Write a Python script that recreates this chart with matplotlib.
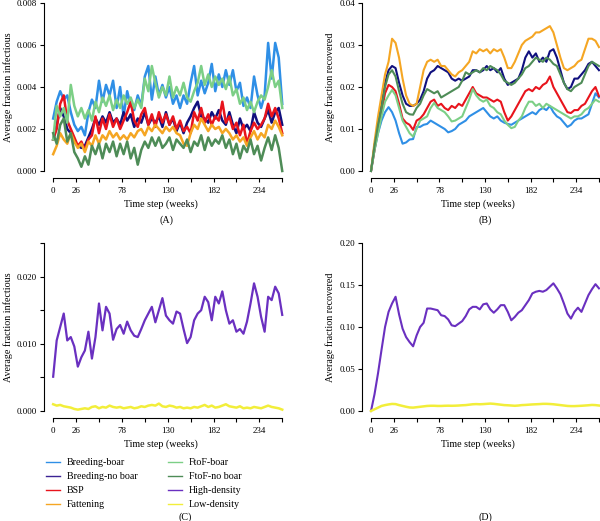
import matplotlib
matplotlib.use('Agg')
import matplotlib.pyplot as plt
from matplotlib.lines import Line2D

plt.rcParams['font.family'] = ['Liberation Serif', 'DejaVu Serif']
plt.rcParams['font.size'] = 6.5

# time grid (weeks), one value every 4 weeks
weeks = list(range(0, 261, 4))

# panel A - average fraction infectious
breeding_boar_inf = [
    0.0025, 0.0033, 0.0038, 0.0034, 0.0036, 0.0028, 0.0022, 0.0019, 0.0021, 0.0017, 0.0028,
    0.0034, 0.0030, 0.0043, 0.0033, 0.0041, 0.0036, 0.0043, 0.0030, 0.0040, 0.0026, 0.0038,
    0.0031, 0.0029, 0.0036, 0.0031, 0.0045, 0.0050, 0.0034, 0.0045, 0.0036, 0.0041, 0.0035,
    0.0040, 0.0032, 0.0036, 0.0030, 0.0036, 0.0032, 0.0042, 0.0050, 0.0036, 0.0043, 0.0037,
    0.0042, 0.0051, 0.0038, 0.0046, 0.0040, 0.0048, 0.0041, 0.0048, 0.0038, 0.0042, 0.0031,
    0.0035, 0.0030, 0.0045, 0.0036, 0.0030, 0.0036, 0.0061, 0.0044, 0.0061, 0.0054, 0.0032]
breeding_noboar_inf = [
    0.0015, 0.0022, 0.0030, 0.0026, 0.0020, 0.0018, 0.0014, 0.0012, 0.0011, 0.0012, 0.0016,
    0.0020, 0.0025, 0.0022, 0.0026, 0.0023, 0.0028, 0.0023, 0.0025, 0.0022, 0.0028, 0.0024,
    0.0027, 0.0021, 0.0025, 0.0023, 0.0028, 0.0022, 0.0025, 0.0023, 0.0026, 0.0021, 0.0028,
    0.0022, 0.0025, 0.0019, 0.0023, 0.0018, 0.0023, 0.0026, 0.0030, 0.0033, 0.0026, 0.0025,
    0.0023, 0.0028, 0.0025, 0.0029, 0.0024, 0.0022, 0.0028, 0.0022, 0.0018, 0.0025, 0.0020,
    0.0022, 0.0019, 0.0028, 0.0023, 0.0021, 0.0025, 0.0029, 0.0023, 0.0028, 0.0030, 0.0022]
bsp_inf = [
    0.0015, 0.0020, 0.0032, 0.0036, 0.0024, 0.0020, 0.0016, 0.0012, 0.0014, 0.0010, 0.0015,
    0.0017, 0.0026, 0.0018, 0.0025, 0.0020, 0.0027, 0.0021, 0.0025, 0.0020, 0.0024, 0.0028,
    0.0033, 0.0024, 0.0021, 0.0027, 0.0030, 0.0022, 0.0027, 0.0021, 0.0028, 0.0023, 0.0027,
    0.0022, 0.0026, 0.0020, 0.0024, 0.0019, 0.0021, 0.0018, 0.0028, 0.0024, 0.0030, 0.0023,
    0.0027, 0.0022, 0.0026, 0.0024, 0.0033, 0.0023, 0.0026, 0.0020, 0.0023, 0.0017, 0.0022,
    0.0013, 0.0019, 0.0023, 0.0020, 0.0022, 0.0025, 0.0032, 0.0026, 0.0030, 0.0025, 0.0018]
fattening_inf = [
    0.0008, 0.0012, 0.0018, 0.0015, 0.0013, 0.0018, 0.0014, 0.0011, 0.0013, 0.0009, 0.0014,
    0.0012, 0.0017, 0.0013, 0.0017, 0.0015, 0.0019, 0.0016, 0.0018, 0.0015, 0.0017, 0.0015,
    0.0018, 0.0016, 0.0019, 0.0020, 0.0017, 0.0021, 0.0019, 0.0022, 0.0020, 0.0018, 0.0021,
    0.0019, 0.0021, 0.0018, 0.0017, 0.0013, 0.0012, 0.0018, 0.0022, 0.0020, 0.0025, 0.0022,
    0.0019, 0.0022, 0.0020, 0.0021, 0.0018, 0.0020, 0.0018, 0.0015, 0.0017, 0.0014, 0.0016,
    0.0012, 0.0016, 0.0019, 0.0015, 0.0018, 0.0016, 0.0022, 0.0020, 0.0024, 0.0021, 0.0017]
ftof_boar_inf = [
    0.0015, 0.0031, 0.0026, 0.0030, 0.0023, 0.0041, 0.0031, 0.0026, 0.0030, 0.0025, 0.0029,
    0.0024, 0.0033, 0.0028, 0.0035, 0.0031, 0.0036, 0.0029, 0.0034, 0.0030, 0.0036, 0.0032,
    0.0035, 0.0030, 0.0034, 0.0030, 0.0044, 0.0038, 0.0050, 0.0042, 0.0035, 0.0040, 0.0036,
    0.0045, 0.0035, 0.0040, 0.0036, 0.0042, 0.0035, 0.0033, 0.0038, 0.0042, 0.0050, 0.0041,
    0.0046, 0.0040, 0.0045, 0.0041, 0.0044, 0.0039, 0.0045, 0.0036, 0.0039, 0.0032, 0.0035,
    0.0029, 0.0033, 0.0028, 0.0033, 0.0036, 0.0034, 0.0040, 0.0048, 0.0040, 0.0043, 0.0030]
ftof_noboar_inf = [
    0.0018, 0.0013, 0.0022, 0.0025, 0.0014, 0.0018, 0.0009, 0.0006, 0.0002, 0.0007, 0.0003,
    0.0012, 0.0008, 0.0013, 0.0006, 0.0013, 0.0009, 0.0014, 0.0007, 0.0013, 0.0008, 0.0014,
    0.0006, 0.0011, 0.0003, 0.0010, 0.0014, 0.0011, 0.0016, 0.0012, 0.0016, 0.0011, 0.0013,
    0.0016, 0.0010, 0.0015, 0.0013, 0.0011, 0.0015, 0.0009, 0.0014, 0.0012, 0.0017, 0.0010,
    0.0016, 0.0012, 0.0015, 0.0013, 0.0017, 0.0011, 0.0015, 0.0008, 0.0013, 0.0006, 0.0012,
    0.0009, 0.0015, 0.0008, 0.0012, 0.0005, 0.0011, 0.0016, 0.0010, 0.0017, 0.0011, 0.0000]

# panel B - average fraction recovered
breeding_boar_rec = [
    0.000, 0.005, 0.009, 0.012, 0.014, 0.0152, 0.014, 0.012, 0.009, 0.0065, 0.0068,
    0.0075, 0.0076, 0.0105, 0.0105, 0.011, 0.0112, 0.012, 0.0115, 0.011, 0.0105, 0.010,
    0.0092, 0.0095, 0.010, 0.011, 0.0115, 0.012, 0.013, 0.0135, 0.014, 0.0145, 0.015,
    0.014, 0.013, 0.0125, 0.013, 0.012, 0.0115, 0.0112, 0.011, 0.0115, 0.012, 0.0125,
    0.013, 0.0135, 0.014, 0.0135, 0.0145, 0.015, 0.0145, 0.0155, 0.014, 0.013, 0.0125,
    0.0115, 0.0105, 0.011, 0.012, 0.0125, 0.0125, 0.013, 0.0135, 0.016, 0.0185, 0.0175]
breeding_noboar_rec = [
    0.000, 0.006, 0.011, 0.016, 0.021, 0.024, 0.025, 0.0245, 0.021, 0.018, 0.016,
    0.0155, 0.0155, 0.016, 0.017, 0.019, 0.022, 0.0235, 0.024, 0.025, 0.0245, 0.024,
    0.0235, 0.022, 0.0215, 0.022, 0.0215, 0.022, 0.0225, 0.024, 0.024, 0.0235, 0.024,
    0.025, 0.024, 0.0245, 0.0235, 0.0245, 0.022, 0.0205, 0.021, 0.0215, 0.022, 0.024,
    0.027, 0.0285, 0.027, 0.028, 0.026, 0.027, 0.026, 0.0285, 0.029, 0.027, 0.024,
    0.021, 0.0195, 0.020, 0.022, 0.022, 0.023, 0.024, 0.0255, 0.026, 0.025, 0.024]
bsp_rec = [
    0.000, 0.005, 0.010, 0.014, 0.0185, 0.0205, 0.020, 0.019, 0.016, 0.0125, 0.0115,
    0.011, 0.0098, 0.012, 0.0125, 0.0135, 0.015, 0.0165, 0.017, 0.0155, 0.016, 0.015,
    0.0145, 0.0155, 0.015, 0.016, 0.0155, 0.017, 0.0185, 0.020, 0.0185, 0.018, 0.0175,
    0.0175, 0.017, 0.0165, 0.017, 0.0165, 0.014, 0.012, 0.013, 0.0145, 0.016, 0.0175,
    0.019, 0.0195, 0.019, 0.020, 0.0195, 0.0205, 0.021, 0.0225, 0.020, 0.0185, 0.017,
    0.0155, 0.014, 0.0138, 0.0145, 0.0145, 0.0155, 0.016, 0.0175, 0.019, 0.020, 0.0178]
fattening_rec = [
    0.000, 0.007, 0.013, 0.018, 0.023, 0.026, 0.0315, 0.0305, 0.027, 0.022, 0.018,
    0.016, 0.0155, 0.016, 0.020, 0.024, 0.026, 0.0265, 0.026, 0.0265, 0.025, 0.025,
    0.024, 0.023, 0.0225, 0.0235, 0.024, 0.025, 0.026, 0.0285, 0.028, 0.029, 0.0285,
    0.029, 0.028, 0.029, 0.0285, 0.029, 0.027, 0.0245, 0.0245, 0.026, 0.028, 0.030,
    0.031, 0.0315, 0.032, 0.033, 0.033, 0.0335, 0.034, 0.0345, 0.033, 0.030, 0.027,
    0.0245, 0.024, 0.0245, 0.025, 0.026, 0.0265, 0.029, 0.0315, 0.0315, 0.031, 0.0295]
ftof_boar_rec = [
    0.000, 0.005, 0.009, 0.013, 0.0165, 0.018, 0.0193, 0.018, 0.015, 0.012, 0.0105,
    0.009, 0.0082, 0.010, 0.012, 0.0125, 0.013, 0.015, 0.0162, 0.015, 0.0145, 0.014,
    0.013, 0.0118, 0.012, 0.0125, 0.013, 0.015, 0.017, 0.0195, 0.018, 0.017, 0.0165,
    0.017, 0.0155, 0.015, 0.014, 0.0135, 0.012, 0.011, 0.0102, 0.0105, 0.012, 0.013,
    0.015, 0.0165, 0.0165, 0.0155, 0.016, 0.015, 0.016, 0.0155, 0.015, 0.0145, 0.014,
    0.0135, 0.013, 0.0125, 0.013, 0.013, 0.0135, 0.0145, 0.015, 0.016, 0.017, 0.0165]
ftof_noboar_rec = [
    0.000, 0.006, 0.011, 0.015, 0.020, 0.023, 0.024, 0.0225, 0.019, 0.016, 0.014,
    0.0135, 0.0134, 0.015, 0.016, 0.018, 0.0195, 0.019, 0.0185, 0.019, 0.0175, 0.018,
    0.0185, 0.019, 0.0195, 0.020, 0.0215, 0.0235, 0.023, 0.0235, 0.024, 0.0235, 0.0245,
    0.024, 0.025, 0.0245, 0.024, 0.023, 0.0215, 0.021, 0.0205, 0.021, 0.022, 0.023,
    0.0245, 0.025, 0.026, 0.027, 0.0265, 0.026, 0.027, 0.0265, 0.0255, 0.025, 0.023,
    0.021, 0.0195, 0.019, 0.020, 0.0205, 0.021, 0.023, 0.025, 0.026, 0.0255, 0.025]

# panel C - infectious, density scenarios
high_density_inf = [
    0.0051, 0.0105, 0.0125, 0.0145, 0.0105, 0.0110, 0.0096, 0.0066, 0.0080, 0.0090, 0.0118,
    0.0078, 0.0110, 0.0160, 0.0120, 0.0155, 0.0145, 0.0106, 0.0122, 0.0128, 0.0115, 0.0133,
    0.0120, 0.0112, 0.0110, 0.0122, 0.0135, 0.0145, 0.0155, 0.0132, 0.0150, 0.0168, 0.0142,
    0.0135, 0.0130, 0.0148, 0.0145, 0.0122, 0.0101, 0.0110, 0.0135, 0.0145, 0.0150, 0.0170,
    0.0162, 0.0135, 0.0170, 0.0160, 0.0178, 0.0150, 0.0130, 0.0135, 0.0118, 0.0122, 0.0115,
    0.0133, 0.0160, 0.0190, 0.0170, 0.0140, 0.0118, 0.0170, 0.0165, 0.0185, 0.0175, 0.0143]
low_density_inf = [
    0.0010, 0.0008, 0.0009, 0.0007, 0.0006, 0.0005, 0.0003, 0.0002, 0.0003, 0.0004, 0.0003,
    0.0006, 0.0007, 0.0004, 0.0006, 0.0005, 0.0008, 0.0006, 0.0005, 0.0006, 0.0004, 0.0005,
    0.0006, 0.0004, 0.0005, 0.0007, 0.0006, 0.0008, 0.0009, 0.0008, 0.0011, 0.0007, 0.0006,
    0.0008, 0.0007, 0.0005, 0.0006, 0.0004, 0.0005, 0.0004, 0.0006, 0.0005, 0.0007, 0.0009,
    0.0006, 0.0008, 0.0005, 0.0006, 0.0008, 0.0010, 0.0007, 0.0006, 0.0005, 0.0007, 0.0004,
    0.0005, 0.0004, 0.0006, 0.0005, 0.0004, 0.0006, 0.0008, 0.0006, 0.0005, 0.0004, 0.0002]

# panel D - recovered, density scenarios
high_density_rec = [
    0.000, 0.020, 0.045, 0.073, 0.100, 0.118, 0.128, 0.136, 0.115, 0.098, 0.088,
    0.082, 0.077, 0.090, 0.100, 0.105, 0.122, 0.122, 0.121, 0.120, 0.114, 0.113,
    0.109, 0.102, 0.101, 0.104, 0.107, 0.113, 0.121, 0.124, 0.124, 0.121, 0.127,
    0.128, 0.121, 0.117, 0.121, 0.126, 0.126, 0.118, 0.108, 0.112, 0.117, 0.120,
    0.126, 0.132, 0.140, 0.142, 0.143, 0.142, 0.144, 0.148, 0.152, 0.146, 0.139,
    0.128, 0.116, 0.110, 0.118, 0.123, 0.118, 0.128, 0.138, 0.145, 0.151, 0.146]
low_density_rec = [
    0.000, 0.002, 0.004, 0.006, 0.007, 0.0078, 0.0084, 0.0082, 0.007, 0.006, 0.005,
    0.0042, 0.004, 0.0045, 0.005, 0.0055, 0.006, 0.0062, 0.0062, 0.006, 0.006, 0.0062,
    0.0063, 0.0062, 0.0063, 0.0065, 0.0068, 0.007, 0.0075, 0.008, 0.0082, 0.008, 0.0082,
    0.0085, 0.0088, 0.0085, 0.008, 0.0075, 0.007, 0.0068, 0.0065, 0.0062, 0.0065, 0.007,
    0.0072, 0.0075, 0.0078, 0.008, 0.0082, 0.0085, 0.0085, 0.0083, 0.008, 0.0075, 0.007,
    0.0065, 0.006, 0.0058, 0.0058, 0.006, 0.0062, 0.0065, 0.0068, 0.0072, 0.007, 0.0065]

names = ['Breeding-boar', 'Breeding-no boar', 'BSP', 'Fattening',
         'FtoF-boar', 'FtoF-no boar', 'High-density', 'Low-density']
colors = ['#2f8fe6', '#10107e', '#e8141c', '#f5a623',
          '#7ccf86', '#4e8c57', '#6a30c0', '#f2ee3a']
legend_colors = ['#2f8fe6', '#3b2394', '#e8141c', '#f5a623',
                 '#7ccf86', '#4e8c57', '#6a30c0', '#f2ee3a']

xticks = list(range(0, 261, 26))
xlabels_shown = [0, 26, 78, 130, 182, 234]

W, H = 600, 521
fig = plt.figure(figsize=(W / 100, H / 100), dpi=100)
LBL = 7.2


def make_ax(left, bottom, width, height):
    return fig.add_axes([left / W, 1 - bottom / H, width / W, height / H])


def style_ax(ax, ymax, yticks, ylabels, ylabel, pad):
    ax.set_xlim(-10.4, 270.4)
    ax.set_ylim(-pad, ymax + pad)
    for s in ['top', 'right']:
        ax.spines[s].set_visible(False)
    ax.spines['left'].set_bounds(0, ymax)
    ax.spines['bottom'].set_bounds(0, 260)
    ax.spines['left'].set_linewidth(0.8)
    ax.spines['bottom'].set_linewidth(0.8)
    ax.set_xticks(xticks)
    ax.set_xticklabels([str(t) if t in xlabels_shown else '' for t in xticks])
    ax.set_yticks(yticks)
    ax.set_yticklabels(ylabels)
    ax.tick_params(length=3, width=0.8, labelsize=6.5)
    ax.tick_params(axis='x', pad=4)
    ax.tick_params(axis='y', pad=2)
    ax.set_ylabel(ylabel, fontsize=LBL, labelpad=3)
    ax.set_xlabel('Time step (weeks)', fontsize=LBL)
    ax.xaxis.set_label_coords(0.473, -0.12)


# panel A
axA = make_ax(44, 177.7, 247.4, 181.4)
for series, i in zip([breeding_boar_inf, breeding_noboar_inf, bsp_inf, fattening_inf,
                      ftof_boar_inf, ftof_noboar_inf], range(6)):
    axA.plot(weeks, series, color=colors[i], lw=1.8)
ya = [0, 0.002, 0.004, 0.006, 0.008]
style_ax(axA, 0.008, ya, ['%.3f' % v for v in ya], 'Average fraction infectious', 0.00032)

# panel B
axB = make_ax(361.9, 177.7, 246.2, 181.4)
for series, i in zip([breeding_boar_rec, breeding_noboar_rec, bsp_rec, fattening_rec,
                      ftof_boar_rec, ftof_noboar_rec], range(6)):
    axB.plot(weeks, series, color=colors[i], lw=1.5)
yb = [0, 0.01, 0.02, 0.03, 0.04]
style_ax(axB, 0.04, yb, ['%.2f' % v for v in yb], 'Average fraction recovered', 0.0016)

# panel C
axC = make_ax(44, 417.7, 247.4, 181.4)
axC.plot(weeks, high_density_inf, color=colors[6], lw=1.6)
axC.plot(weeks, low_density_inf, color=colors[7], lw=1.8)
yc = [0, 0.005, 0.010, 0.015, 0.020, 0.025]
style_ax(axC, 0.025, yc, ['0.000', '', '0.010', '', '0.020', ''],
         'Average fraction infectious', 0.001)

# panel D
axD = make_ax(361.9, 417.7, 246.2, 181.4)
axD.plot(weeks, high_density_rec, color=colors[6], lw=1.5)
axD.plot(weeks, low_density_rec, color=colors[7], lw=1.8)
yd = [0, 0.05, 0.10, 0.15, 0.20]
style_ax(axD, 0.20, yd, ['%.2f' % v for v in yd], 'Average fraction recovered', 0.008)

# panel letters
for txt, x, y in [('(A)', 167, 220), ('(B)', 485, 220), ('(C)', 185, 517), ('(D)', 485, 517)]:
    fig.text(x / W, 1 - y / H, txt, ha='center', va='center', fontsize=LBL)

# legend, two columns placed by hand
handles = [Line2D([], [], color=c, lw=1.0) for c in legend_colors]
leg_kw = dict(frameon=False, fontsize=LBL, handlelength=1.4, handletextpad=0.7,
              labelspacing=0.5, borderpad=0, borderaxespad=0, loc='upper left')
leg1 = fig.legend(handles[:4], names[:4], bbox_to_anchor=(46 / W, 1 - 458 / H), **leg_kw)
leg2 = fig.legend(handles[4:], names[4:], bbox_to_anchor=(168 / W, 1 - 458 / H), **leg_kw)

fig.savefig('out.png', dpi=100)
